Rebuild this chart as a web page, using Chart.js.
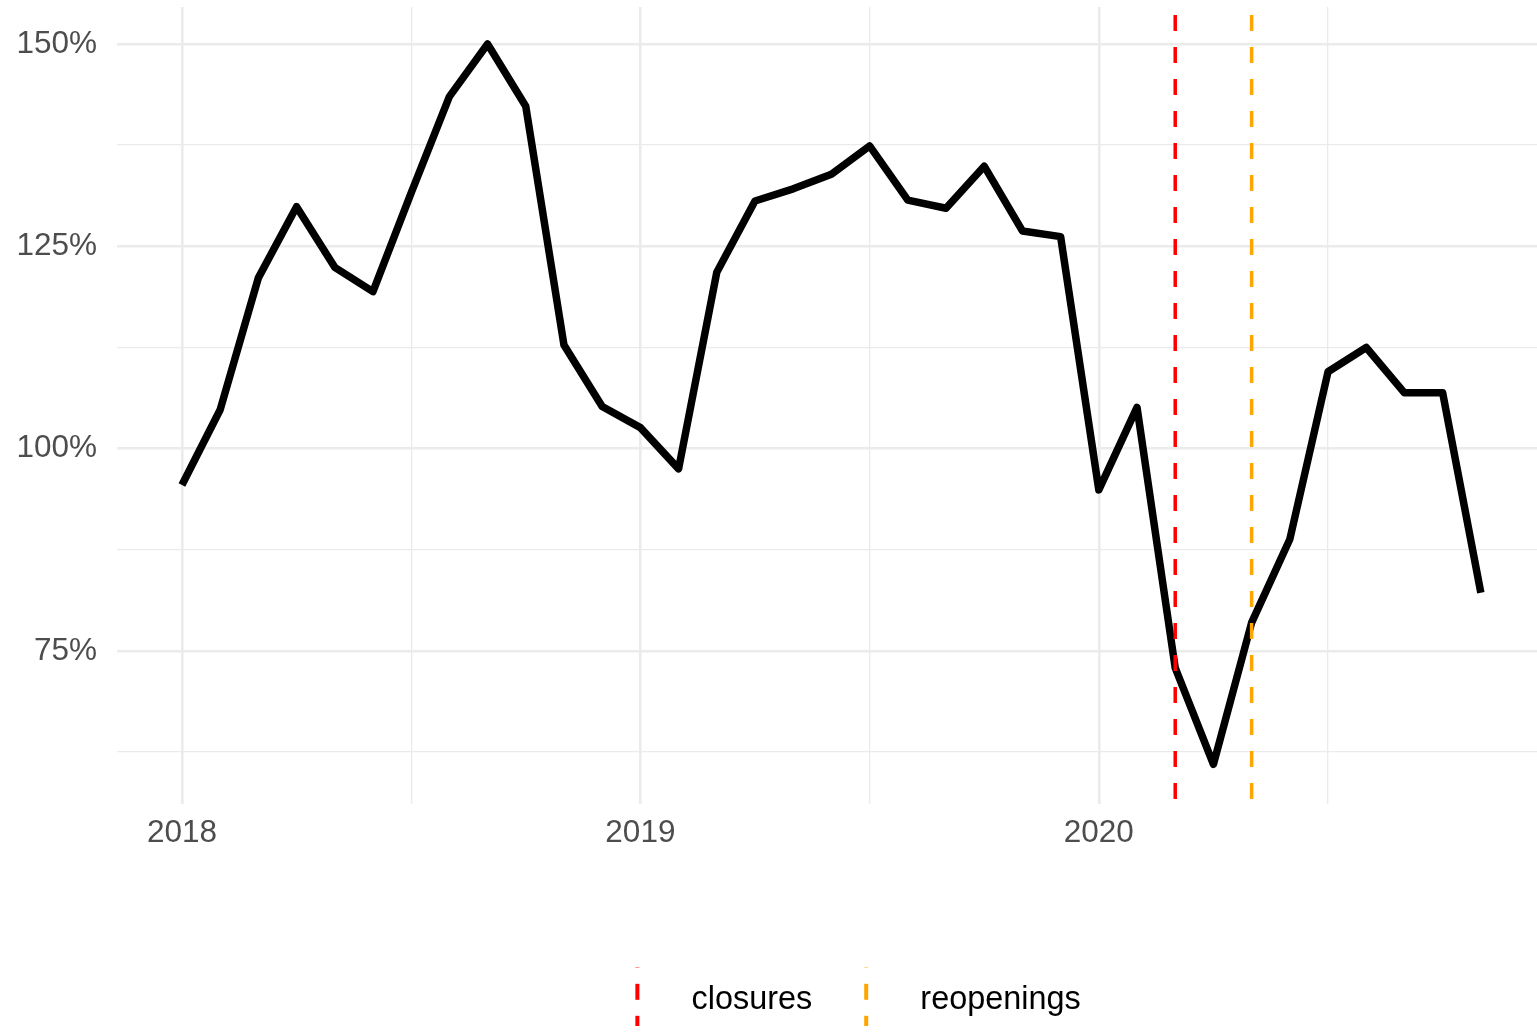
<!DOCTYPE html>
<html>
<head>
<meta charset="utf-8">
<script src="https://cdn.jsdelivr.net/npm/chart.js@4.4.1/dist/chart.umd.min.js"></script>
<style>
  html, body { margin: 0; padding: 0; background: #fff; }
  canvas { display: block; }
</style>
</head>
<body>
<canvas id="chart" width="1537" height="1033"></canvas>
<script>
// monthly values, Jan 2018 .. Nov 2020 (percent)
var months = [
  '2018-01', '2018-02', '2018-03', '2018-04', '2018-05', '2018-06',
  '2018-07', '2018-08', '2018-09', '2018-10', '2018-11', '2018-12',
  '2019-01', '2019-02', '2019-03', '2019-04', '2019-05', '2019-06',
  '2019-07', '2019-08', '2019-09', '2019-10', '2019-11', '2019-12',
  '2020-01', '2020-02', '2020-03', '2020-04', '2020-05', '2020-06',
  '2020-07', '2020-08', '2020-09', '2020-10', '2020-11'
];
var values = [
  95.5, 104.8, 121.1, 129.9, 122.4, 119.4, 131.6, 143.5, 150.0, 142.3, 112.8, 105.2,
  102.6, 97.5, 121.8, 130.6, 132.1, 133.9, 137.4, 130.7, 129.7, 134.9, 126.9, 126.2,
  94.9, 105.1, 72.9, 61.0, 78.5, 88.8, 109.5, 112.5, 106.9, 106.9, 82.2
];

var xTickValues = [0, 6, 12, 18, 24, 30];
var xTickLabels = ['2018', '', '2019', '', '2020', ''];
var yTickValues = [62.5, 75, 87.5, 100, 112.5, 125, 137.5, 150];
var yTickLabels = ['', '75%', '', '100%', '', '125%', '', '150%'];

var eventNames = ['closures', 'reopenings'];
var eventMonths = ['2020-03', '2020-05'];
var eventColors = ['#ff0000', '#ffa500'];

var xMin = -1.7, xMax = 35.47;
var yMin = 56.14, yMax = 154.57;

var font = "'Liberation Sans', Arial, Helvetica, sans-serif";
var gridColor = '#ebebeb';
var tickColor = '#4d4d4d';

// legend key: short vertical dashed line
function makeKey(color) {
  var c = document.createElement('canvas');
  c.width = 8;
  c.height = 68;
  var k = c.getContext('2d');
  k.strokeStyle = color;
  k.lineWidth = 4;
  k.setLineDash([16, 16]);
  k.lineDashOffset = 14;
  k.beginPath();
  k.moveTo(4, 0);
  k.lineTo(4, 66);
  k.stroke();
  return c;
}

var datasets = [{
  label: 'value',
  data: values.map(function(v, i) { return {x: i, y: v}; }),
  borderColor: '#000',
  borderWidth: 7.5,
  borderJoinStyle: 'round',
  borderCapStyle: 'butt',
  pointRadius: 0,
  tension: 0,
  order: 5
}];

eventNames.forEach(function(name, i) {
  var xi = months.indexOf(eventMonths[i]);
  datasets.push({
    label: name,
    data: [{x: xi, y: yMax}, {x: xi, y: yMin}],
    borderColor: eventColors[i],
    borderWidth: 3.5,
    borderDash: [16, 16],
    borderDashOffset: 24,
    borderCapStyle: 'butt',
    pointRadius: 0,
    pointStyle: makeKey(eventColors[i]),
    order: i
  });
});

var legendShift = {
  id: 'legendShift',
  afterLayout: function(chart) {
    chart.legend.left += 13;
    chart.legend.right += 13;
  }
};

function noPadding(scale) {
  scale.paddingTop = 0;
  scale.paddingBottom = 0;
  scale.paddingLeft = 0;
  scale.paddingRight = 0;
}

var ctx = document.getElementById('chart').getContext('2d');
var chart = new Chart(ctx, {
  type: 'line',
  data: { datasets: datasets },
  plugins: [legendShift],
  options: {
    responsive: false,
    animation: false,
    devicePixelRatio: 1,
    layout: { autoPadding: false, padding: { top: 7, bottom: 7, left: 0, right: 0 } },
    plugins: {
      tooltip: { enabled: false },
      legend: {
        position: 'bottom',
        fullSize: false,
        labels: {
          usePointStyle: true,
          pointStyleWidth: 76,
          padding: 16,
          color: '#000',
          font: { family: font, size: 32.4 },
          filter: function(item) { return item.datasetIndex > 0; }
        }
      }
    },
    scales: {
      x: {
        type: 'linear',
        min: xMin,
        max: xMax,
        afterBuildTicks: function(scale) {
          scale.ticks = xTickValues.map(function(v) { return {value: v}; });
        },
        afterFit: function(scale) { scale.height = 164; noPadding(scale); },
        grid: {
          color: gridColor,
          drawTicks: false,
          lineWidth: function(c) { return xTickLabels[c.index] ? 2.6 : 1.3; }
        },
        border: { display: false },
        ticks: {
          padding: 11,
          color: tickColor,
          font: { family: font, size: 31.5 },
          maxRotation: 0,
          autoSkip: false,
          callback: function(v, i) { return xTickLabels[i]; }
        }
      },
      y: {
        type: 'linear',
        min: yMin,
        max: yMax,
        afterBuildTicks: function(scale) {
          scale.ticks = yTickValues.map(function(v) { return {value: v}; });
        },
        afterFit: function(scale) { scale.width = 117; noPadding(scale); },
        grid: {
          color: gridColor,
          drawTicks: false,
          lineWidth: function(c) { return yTickLabels[c.index] ? 2.6 : 1.3; }
        },
        border: { display: false },
        ticks: {
          padding: 20,
          color: tickColor,
          font: { family: font, size: 31.5 },
          autoSkip: false,
          callback: function(v, i) { return yTickLabels[i]; }
        }
      }
    }
  }
});
</script>
</body>
</html>
